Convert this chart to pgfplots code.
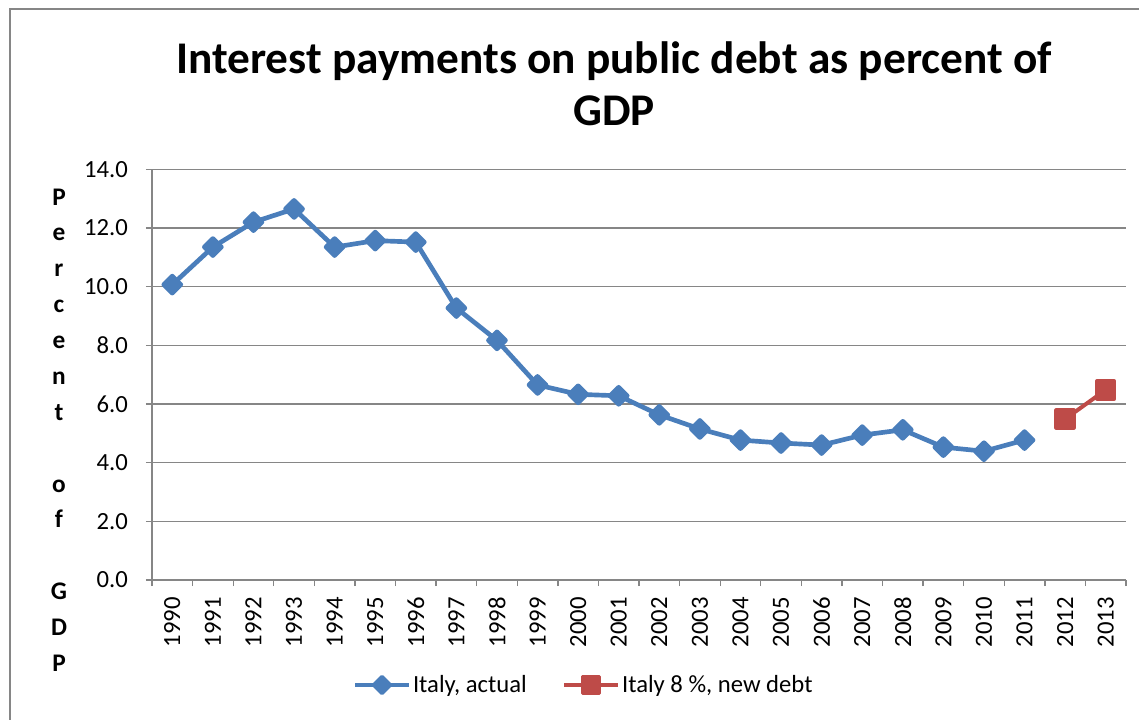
\documentclass[border=0pt]{standalone}
\usepackage{fontspec}
\setmainfont{Carlito}
\usepackage{pgfplots}
\pgfplotsset{compat=1.18}
\definecolor{xlblue}{HTML}{4A7EBB}
\definecolor{xlred}{HTML}{BE4B48}
\definecolor{xlgrid}{HTML}{868686}
\begin{document}
\begin{tikzpicture}
\useasboundingbox (-114pt,-104.25pt) rectangle (740.25pt,435pt);
\draw[xlgrid, line width=1pt] (-106.5pt,-110pt) -- (-106.5pt,428.25pt) -- (745pt,428.25pt);
\begin{axis}[
  scale only axis, width=730.5pt, height=308pt,
  at={(0,0)}, anchor=south west,
  xmin=-0.5, xmax=23.5, ymin=0, ymax=14,
  axis x line*=bottom, axis y line*=left,
  axis line style={xlgrid, line width=1pt, -},
  xtick={-0.5,0.5,...,23.5},
  x tick label as interval,
  xticklabels={1990,1991,1992,1993,1994,1995,1996,1997,1998,1999,2000,2001,2002,2003,2004,2005,2006,2007,2008,2009,2010,2011,2012,2013},
  x tick label style={rotate=90, anchor=east},
  xticklabel shift=5pt,
  yticklabel shift=10pt,
  ytick={0,2,...,14},
  yticklabel style={/pgf/number format/.cd, fixed, fixed zerofill, precision=1, assume math mode=true},
  ticklabel style={font=\fontsize{18.5}{20}\selectfont},
  ymajorgrids, major grid style={xlgrid, line width=1pt},
  tick style={xlgrid, line width=1pt}, tick align=outside, major tick length=4.5pt,
  legend style={at={(0.444,-0.2557)}, anchor=center, draw=none, legend columns=2,
    font=\fontsize{18.5}{20}\selectfont,
    /tikz/every even column/.append style={column sep=25pt}},
  legend image code/.code={\draw[mark repeat=2,mark phase=2,#1, line width=2.5pt] plot coordinates {(0pt,0pt)(20pt,0pt)(40pt,0pt)};},
]
\addplot[xlblue, line width=3.5pt, line join=round, mark=square*, mark size=4.5pt, mark options={rotate=45, solid}] coordinates {
(0,10.07)(1,11.35)(2,12.2)(3,12.65)(4,11.35)(5,11.57)(6,11.52)(7,9.27)(8,8.17)(9,6.65)(10,6.33)(11,6.28)(12,5.63)(13,5.15)(14,4.77)(15,4.67)(16,4.6)(17,4.94)(18,5.12)(19,4.53)(20,4.39)(21,4.77)};
\addlegendentry{Italy, actual}
\addplot[xlred, line width=3pt, line join=round, mark=square*, mark size=6.5pt, mark options={solid}] coordinates {(22,5.49)(23,6.48)};
\addlegendentry{Italy 8 \%, new debt}
\end{axis}
\node[font=\bfseries\fontsize{34}{39}\selectfont, align=center] at (346.5pt,372pt) {Interest payments on public debt as percent of\\GDP};
\node[font=\bfseries\fontsize{19}{26.9}\selectfont, align=center] at (-69.75pt,112.5pt) {P\\e\\r\\c\\e\\n\\t\\\mbox{}\\o\\f\\\mbox{}\\G\\D\\P};
\end{tikzpicture}
\end{document}
